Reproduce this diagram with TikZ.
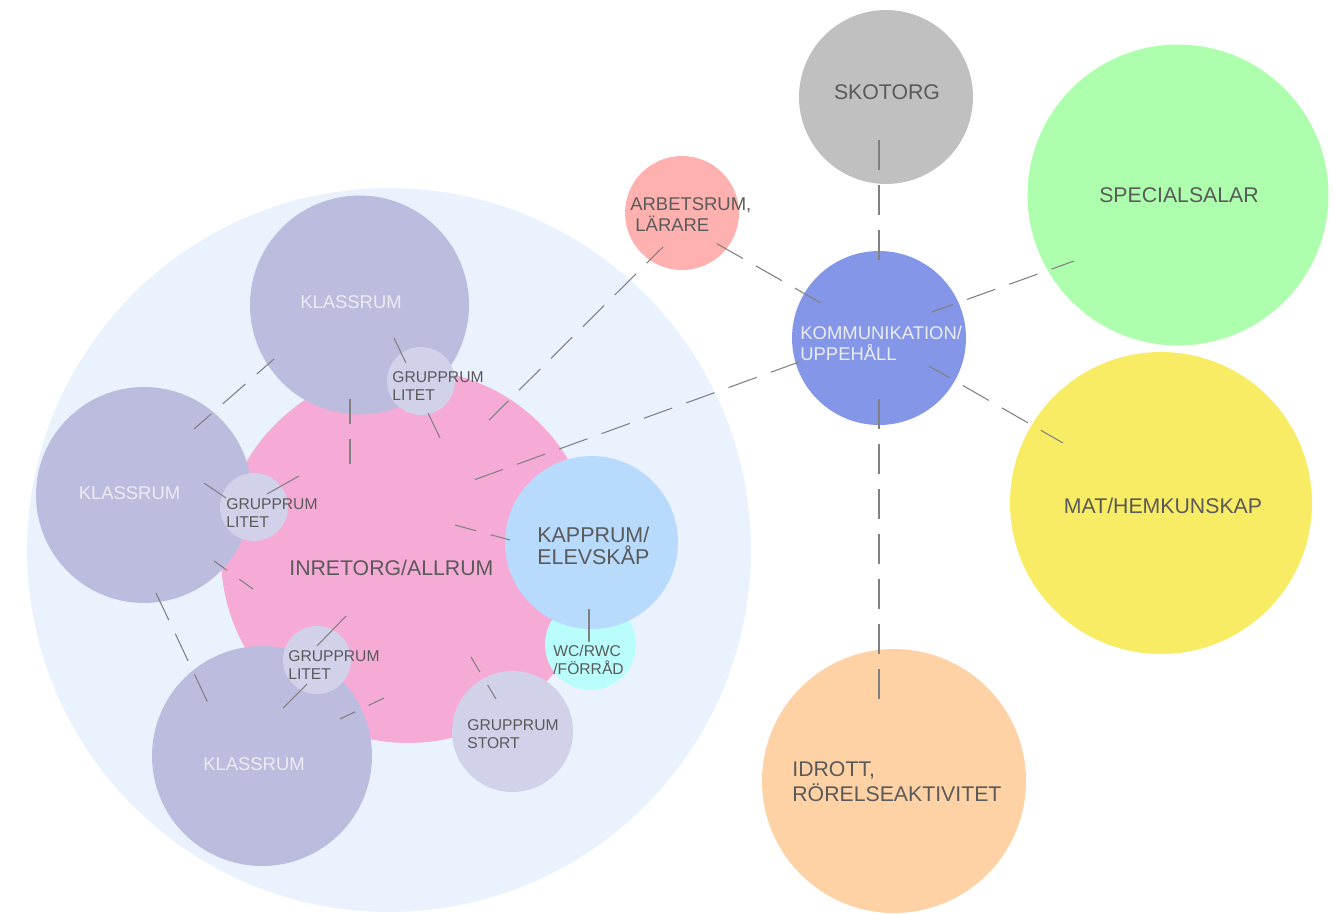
\documentclass[tikz,border=0pt]{standalone}
\usepackage{fontspec}
\setmainfont{Liberation Sans}
\definecolor{bgblue}{HTML}{E9F2FD}
\definecolor{klass}{HTML}{BCBCDE}
\definecolor{grupp}{HTML}{D1D1E9}
\definecolor{pink}{HTML}{F6ABD7}
\definecolor{kapp}{HTML}{B7DAFD}
\definecolor{wc}{HTML}{B9FEFC}
\definecolor{arb}{HTML}{FFB1B0}
\definecolor{komm}{HTML}{8396E8}
\definecolor{sko}{HTML}{C0C0C0}
\definecolor{spec}{HTML}{ADFFAD}
\definecolor{mat}{HTML}{F8EC64}
\definecolor{idr}{HTML}{FED2A4}
\definecolor{txtdark}{HTML}{5A5A5A}
\definecolor{txtlight}{HTML}{ECECF2}
\definecolor{linec}{HTML}{808080}
\begin{document}
\begin{tikzpicture}[x=0.02cm,y=-0.02cm,
  room/.style={circle,inner sep=0pt,draw=none},
  lbl/.style={inner sep=0pt,text=txtdark,align=left},
  bigf/.style={font=\fontsize{12.1}{13.7}\selectfont},
  midf/.style={font=\fontsize{10.5}{11.95}\selectfont},
  smallf/.style={font=\fontsize{8.9}{10.2}\selectfont},
  conn/.style={draw=linec,line width=0.6pt},
  dconn/.style={conn,dash pattern=on 17.07pt off 8.54pt}]
\useasboundingbox (0,0) rectangle (1335,913);
% rooms
\node[room,fill=bgblue,minimum size=14.48cm] (area) at (389,550) {};
\node[room,fill=pink,minimum size=7.48cm] (inret) at (408,556) {};
\node[room,fill=klass,minimum size=4.38cm] (k1) at (359.5,305) {};
\node[room,fill=klass,minimum size=4.32cm] (k2) at (144,495) {};
\node[room,fill=klass,minimum size=4.40cm] (k3) at (262,756) {};
\node[room,fill=grupp,minimum size=1.36cm] (g1) at (421,381) {};
\node[room,fill=grupp,minimum size=1.36cm] (g2) at (254,507) {};
\node[room,fill=grupp,minimum size=1.36cm] (g3) at (317,660) {};
\node[room,fill=wc,minimum size=1.82cm] (wc) at (590.5,644.5) {};
\node[room,fill=kapp,minimum size=3.46cm] (kapp) at (591.5,542.5) {};
\node[room,fill=grupp,minimum size=2.42cm] (stort) at (512.5,731.5) {};
\node[room,fill=arb,minimum size=2.28cm] (arb) at (682,213) {};
\node[room,fill=komm,minimum size=3.48cm] (komm) at (879,338) {};
\node[room,fill=sko,minimum size=3.48cm] (sko) at (886,97) {};
\node[room,fill=spec,minimum size=6.02cm] (spec) at (1178,195) {};
\node[room,fill=mat,minimum size=6.04cm] (mat) at (1161,503) {};
\node[room,fill=idr,minimum size=5.28cm] (idr) at (894,781) {};
% connector end points
\coordinate (a1) at (799,362); \coordinate (b1) at (471,481);
\coordinate (a2) at (663,247); \coordinate (b2) at (489,420);
\coordinate (a3) at (821,303); \coordinate (b3) at (714,242);
\coordinate (a4) at (879,140); \coordinate (b4) at (879,268);
\coordinate (a5) at (932,312); \coordinate (b5) at (1074,261);
\coordinate (a6) at (929,366); \coordinate (b6) at (1063,443);
\coordinate (a7) at (879,399); \coordinate (b7) at (879,702);
\coordinate (a8) at (274,359); \coordinate (b8) at (194,429);
\coordinate (a9) at (350,399); \coordinate (b9) at (350,464);
\coordinate (a10) at (394,338); \coordinate (b10) at (406,363);
\coordinate (a11) at (428,413); \coordinate (b11) at (440,438);
\coordinate (a12) at (204,483); \coordinate (b12) at (226,498);
\coordinate (a13) at (267,494); \coordinate (b13) at (299,476);
\coordinate (a14) at (214,561); \coordinate (b14) at (253,589);
\coordinate (a15) at (156,593); \coordinate (b15) at (208,703);
\coordinate (a16) at (346,616); \coordinate (b16) at (317,646);
\coordinate (a17) at (307,684); \coordinate (b17) at (283,708);
\coordinate (a18) at (384,698); \coordinate (b18) at (340,719);
\coordinate (a19) at (471,657); \coordinate (b19) at (496,699);
\coordinate (a20) at (589,609); \coordinate (b20) at (589,642);
\coordinate (a21) at (455,525); \coordinate (b21) at (510,540);
% connectors
\draw[dconn] (a1) -- (b1);
\draw[dconn,dash phase=3.98pt] (a2) -- (b2);
\draw[dconn] (a3) -- (b3);
\draw[dconn] (a4) -- (b4);
\draw[dconn,dash phase=4.55pt] (a5) -- (b5);
\draw[dconn,dash phase=3.41pt] (a6) -- (b6);
\draw[dconn] (a7) -- (b7);
\draw[dconn,dash phase=3.98pt] (a8) -- (b8);
\draw[dconn,dash phase=2.85pt] (a9) -- (b9);
\draw[conn] (a10) -- (b10);
\draw[conn] (a11) -- (b11);
\draw[conn] (a12) -- (b12);
\draw[conn] (a13) -- (b13);
\draw[dconn,dash phase=7.97pt] (a14) -- (b14);
\draw[dconn] (a15) -- (b15);
\draw[conn] (a16) -- (b16);
\draw[conn] (a17) -- (b17);
\draw[dconn,dash phase=7.40pt] (a18) -- (b18);
\draw[dconn,dash phase=7.11pt] (a19) -- (b19);
\draw[conn] (a20) -- (b20);
\draw[dconn,dash phase=4.55pt] (a21) -- (b21);
% labels (multi-line: anchor at baseline of last line)
\node[lbl,bigf,anchor=base west] (tinret) at (289,575) {INRETORG/ALLRUM};
\node[lbl,midf,text=txtlight,anchor=base] (tk1) at (351,308) {KLASSRUM};
\node[lbl,midf,text=txtlight,anchor=base] (tk2) at (129.5,499) {KLASSRUM};
\node[lbl,midf,text=txtlight,anchor=base] (tk3) at (254,770) {KLASSRUM};
\node[lbl,smallf,anchor=base west] (tg1) at (392,400) {GRUPPRUM\\LITET};
\node[lbl,smallf,anchor=base west] (tg2) at (226,527) {GRUPPRUM\\LITET};
\node[lbl,smallf,anchor=base west] (tg3) at (288,679) {GRUPPRUM\\LITET};
\node[lbl,smallf,anchor=base west] (tstort) at (467,748) {GRUPPRUM\\STORT};
\node[lbl,smallf,font=\fontsize{8.9}{9.7}\selectfont,anchor=base west] (twc) at (553,674) {WC/RWC\\/FÖRRÅD};
\node[lbl,bigf,font=\fontsize{12.2}{12.5}\selectfont,anchor=base west] (tkapp) at (537,564) {KAPPRUM/\\ELEVSKÅP};
\node[lbl,midf,anchor=base west] (tarb) at (630,231) {ARBETSRUM,\\~LÄRARE};
\node[lbl,midf,text=txtlight,anchor=base west] (tkomm) at (800,360) {KOMMUNIKATION/\\UPPEHÅLL};
\node[lbl,bigf,anchor=base] (tsko) at (887,99) {SKOTORG};
\node[lbl,bigf,anchor=base] (tspec) at (1179,202) {SPECIALSALAR};
\node[lbl,bigf,anchor=base] (tmat) at (1163,513) {MAT/HEMKUNSKAP};
\node[lbl,bigf,anchor=base west] (tidr) at (792,801) {IDROTT,\\RÖRELSEAKTIVITET};
\end{tikzpicture}
\end{document}
